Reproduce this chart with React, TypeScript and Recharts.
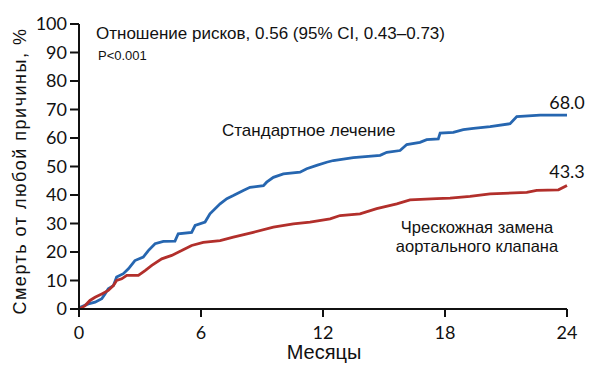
import React from 'react';
import { LineChart, Line, XAxis, YAxis, ReferenceDot } from 'recharts';

const standardMonths = [0, 0.05, 0.46, 0.79, 1.12, 1.28, 1.44, 1.69, 1.85, 2.18, 2.43, 2.75, 3.16, 3.41, 3.74, 4.15, 4.72, 4.88, 5.54, 5.71, 6.2, 6.44, 6.94, 7.27, 7.59, 8.08, 8.41, 9.07, 9.23, 9.56, 10.05, 10.87, 11.2, 11.69, 12.18, 12.51, 13.49, 14.81, 15.14, 15.79, 16.12, 16.77, 17.1, 17.67, 17.76, 18.41, 18.9, 19.4, 20.22, 21.2, 21.53, 22.68, 24];
const standardRisk = [0, 0.6, 1.8, 2.4, 3.6, 5.3, 7.1, 8.2, 11.2, 12.4, 14.1, 17.0, 18.2, 20.5, 22.9, 23.7, 23.8, 26.4, 26.9, 29.3, 30.5, 33.4, 36.9, 38.7, 39.8, 41.6, 42.7, 43.3, 44.5, 46.2, 47.4, 48.0, 49.2, 50.4, 51.5, 52.1, 53.1, 53.9, 55.0, 55.6, 57.7, 58.5, 59.4, 59.7, 61.7, 62.0, 62.9, 63.4, 64.0, 65.0, 67.5, 68.0, 68.0];

const tavrMonths = [0, 0.05, 0.3, 0.54, 0.79, 1.12, 1.44, 1.69, 1.85, 2.1, 2.35, 2.92, 3.25, 3.58, 4.07, 4.56, 5.05, 5.54, 6.11, 6.94, 7.59, 8.57, 9.56, 10.54, 11.36, 12.35, 12.84, 13.82, 14.64, 15.63, 16.28, 17.59, 18.25, 19.23, 20.22, 22.02, 22.51, 23.58, 24];
const tavrRisk = [0, 0.1, 1.2, 3.0, 4.1, 5.3, 6.5, 8.2, 10.0, 10.6, 11.8, 11.8, 13.5, 15.3, 17.6, 18.8, 20.5, 22.3, 23.4, 24.0, 25.2, 26.9, 28.7, 29.9, 30.5, 31.6, 32.8, 33.4, 35.2, 36.9, 38.3, 38.7, 38.9, 39.5, 40.4, 40.9, 41.6, 41.8, 43.3];

const xTicks = [0, 6, 12, 18, 24];
const yTicks = [0, 10, 20, 30, 40, 50, 60, 70, 80, 90, 100];

const standardData = standardMonths.map((m, i) => ({ month: m, value: standardRisk[i] }));
const tavrData = tavrMonths.map((m, i) => ({ month: m, value: tavrRisk[i] }));

const BLUE = '#2666b0';
const RED = '#b22f2b';
const INK = '#111';
const SANS = '"Liberation Sans", Arial, sans-serif';
const NUM = 'Lato, Roboto, sans-serif';

export default function App() {
  return (
    <div style={{ width: 584, height: 361 }}>
      <LineChart width={584} height={361} margin={{ top: 16, right: 25, bottom: 30, left: 11 }}>
        <XAxis
          type="number"
          dataKey="month"
          domain={[0, 24]}
          ticks={xTicks}
          height={30}
          tickSize={8}
          tickMargin={9}
          axisLine={{ stroke: INK, strokeWidth: 2 }}
          tickLine={{ stroke: INK, strokeWidth: 2 }}
          tick={{ fill: INK, fontSize: 18, fontFamily: NUM }}
          allowDuplicatedCategory={false}
        />
        <YAxis
          type="number"
          domain={[0, 100]}
          ticks={yTicks}
          width={60}
          tickSize={9}
          tickMargin={3}
          axisLine={{ stroke: INK, strokeWidth: 2 }}
          tickLine={{ stroke: INK, strokeWidth: 2 }}
          tick={{ fill: INK, fontSize: 18, fontFamily: NUM }}
        />
        <Line data={standardData} dataKey="value" type="linear" stroke={BLUE} strokeWidth={2.8} dot={false} isAnimationActive={false} />
        <Line data={tavrData} dataKey="value" type="linear" stroke={RED} strokeWidth={2.8} dot={false} isAnimationActive={false} />
        <ReferenceDot x={24} y={68.0} r={0} ifOverflow="visible" label={{ value: '68.0', position: 'top', offset: 6, fill: INK, fontSize: 18, fontFamily: NUM }} />
        <ReferenceDot x={24} y={43.3} r={0} ifOverflow="visible" label={{ value: '43.3', position: 'top', offset: 8, fill: INK, fontSize: 18, fontFamily: NUM }} />
        <text x={88} y={31} fontSize={17} fontFamily={SANS} fill={INK}>Отношение рисков, 0.56 (95% CI, 0.43–0.73)</text>
        <text x={90} y={52} fontSize={13} fontFamily={SANS} fill={INK}>P&lt;0.001</text>
        <text x={214} y={128} fontSize={17} fontFamily={SANS} fill={INK}>Стандартное лечение</text>
        <text x={469} y={225} fontSize={16.5} fontFamily={SANS} fill={INK} textAnchor="middle">Чрескожная замена</text>
        <text x={469} y={244} fontSize={16.5} fontFamily={SANS} fill={INK} textAnchor="middle">аортального клапана</text>
        <text x={316} y={351} fontSize={20} fontFamily={SANS} fill={INK} textAnchor="middle">Месяцы</text>
        <text x={0} y={0} fontSize={18} letterSpacing={1.5} fontFamily={SANS} fill={INK} textAnchor="middle" transform="translate(18,163) rotate(-90)">Смерть от любой причины, %</text>
      </LineChart>
    </div>
  );
}
